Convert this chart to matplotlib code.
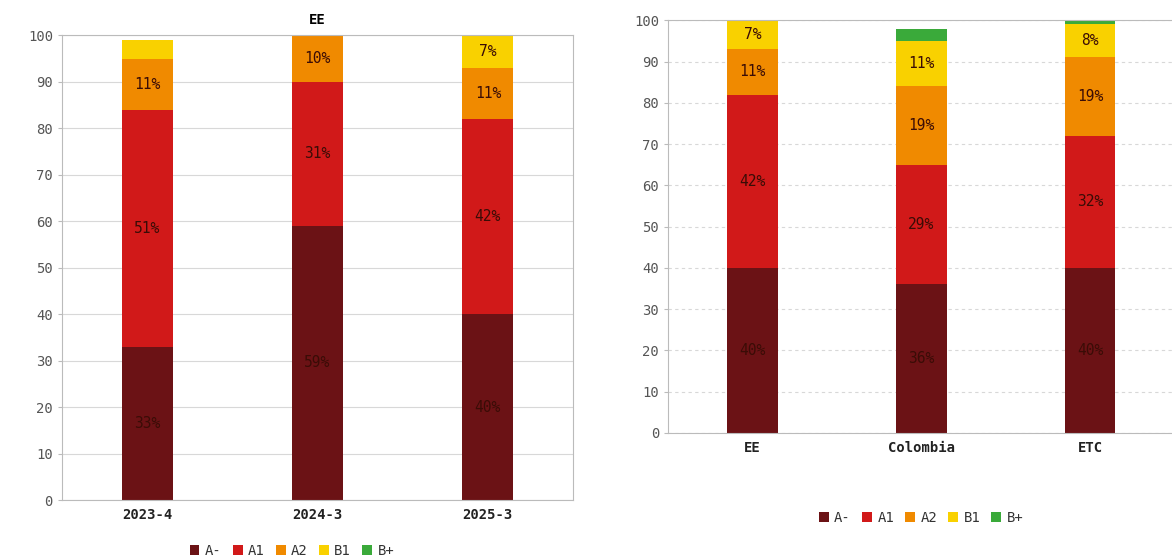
import numpy as np
import matplotlib
matplotlib.use("Agg")
import matplotlib.pyplot as plt

levels = ["A-", "A1", "A2", "B1", "B+"]
colors = ["#6b1215", "#d11919", "#f08a00", "#f9d100", "#3aaa3a"]

# left panel: EE over time
left_cats = ["2023-4", "2024-3", "2025-3"]
left_am = [33, 59, 40]
left_a1 = [51, 31, 42]
left_a2 = [11, 10, 11]
left_b1 = [4, 0, 7]
left_bp = [0, 0, 0]

# right panel: comparison
right_cats = ["EE", "Colombia", "ETC"]
right_am = [40, 36, 40]
right_a1 = [42, 29, 32]
right_a2 = [11, 19, 19]
right_b1 = [7, 11, 8]
right_bp = [0, 3, 1]

plt.rcParams["font.family"] = ["DejaVu Sans Mono", "DejaVu Sans"]


def stacked(ax, cats, series, grid_ls):
    x = np.arange(len(cats))
    bottom = np.zeros(len(cats))
    for vals, col, lab in zip(series, colors, levels):
        vals = np.asarray(vals, float)
        ax.bar(x, vals, 0.3, bottom=bottom, color=col, label=lab, zorder=2)
        for xi, b, v in zip(x, bottom, vals):
            if v >= 5:
                ax.text(xi, b + v / 2, f"{int(v)}%", ha="center", va="center",
                        fontsize=10.5, color="#3a0c06", zorder=3)
        bottom += vals
    ax.set_xlim(-0.5, len(cats) - 0.5)
    ax.set_ylim(0, 100)
    ax.set_yticks(range(0, 101, 10))
    ax.set_xticks(x)
    ax.set_xticklabels(cats, fontweight="bold", fontsize=10, color="#222222")
    ax.tick_params(axis="y", labelsize=10, labelcolor="#555555", color="#bbbbbb", length=3)
    ax.tick_params(axis="x", length=0, pad=6)
    ax.grid(axis="y", color="#d8d8d8", ls=grid_ls, lw=0.8, zorder=0)
    for s in ax.spines.values():
        s.set_color("#bbbbbb")


fig = plt.figure(figsize=(11.72, 5.6), dpi=100)

ax1 = fig.add_axes([0.0529, 0.107, 0.436, 0.830])
stacked(ax1, left_cats, [left_am, left_a1, left_a2, left_b1, left_bp], "-")
ax1.set_title("EE", fontweight="bold", fontsize=10, pad=8)
ax1.legend(loc="center", bbox_to_anchor=(0.45, -0.11), ncol=5, frameon=False,
           fontsize=10, handlelength=0.7, handleheight=0.7, handletextpad=0.4,
           columnspacing=0.8, labelcolor="#333333")

ax2 = fig.add_axes([0.570, 0.2268, 0.432, 0.737])
stacked(ax2, right_cats, [right_am, right_a1, right_a2, right_b1, right_bp], (0, (3, 3)))
ax2.spines["right"].set_visible(False)
ax2.legend(loc="center", bbox_to_anchor=(0.5, -0.205), ncol=5, frameon=False,
           fontsize=10, handlelength=0.7, handleheight=0.7, handletextpad=0.4,
           columnspacing=0.8, labelcolor="#333333")

fig.savefig("out.png", dpi=100)
